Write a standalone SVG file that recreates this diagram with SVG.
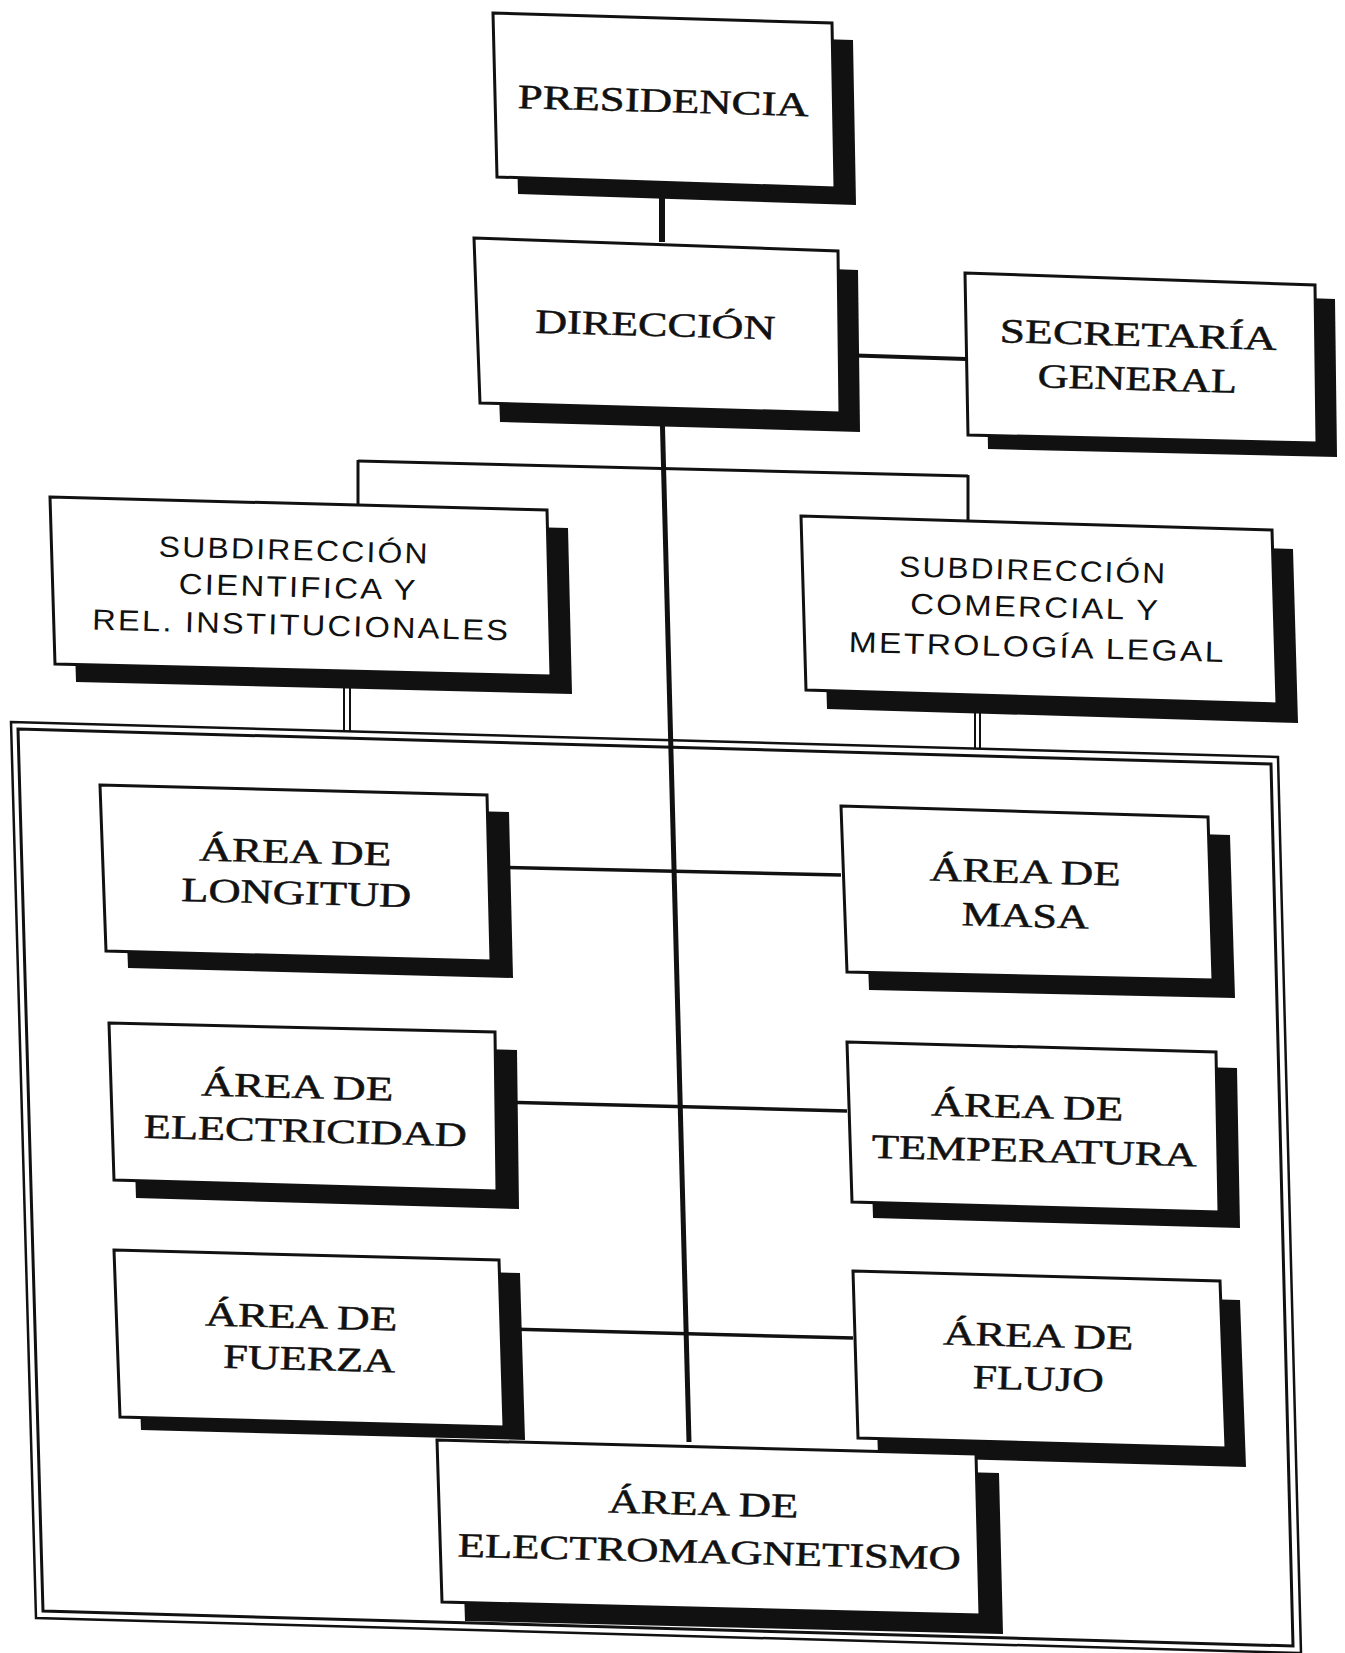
<svg xmlns="http://www.w3.org/2000/svg" width="1345" height="1653" viewBox="0 0 1345 1653">
<style>
.box{fill:#fff;stroke:#111;stroke-width:3;stroke-linejoin:miter}
.sh{fill:#111}
.t{font-family:"Liberation Serif","Times New Roman",serif;font-size:34px;fill:#111;stroke:#111;stroke-width:0.5;text-anchor:middle}
.s{font-family:"Liberation Sans",Arial,sans-serif;font-size:29px;letter-spacing:2px;fill:#111;text-anchor:middle}
.c{stroke:#111;fill:none;stroke-linecap:butt}
.fr{fill:none;stroke:#111}
</style>
<rect width="1345" height="1653" fill="#fff"/>
<g id="frame">
<polygon class="fr" stroke-width="2.5" points="11,722 1278,757 1301,1653 36,1618"/>
<polygon class="fr" stroke-width="3" points="18,729 1271,764 1293,1646 43,1611"/>
</g>
<g id="connectors">
<line class="c" stroke-width="6" x1="662" y1="188" x2="662" y2="242"/>
<line class="c" stroke-width="4" x1="840" y1="355" x2="966" y2="359"/>
<line class="c" stroke-width="5" x1="662" y1="408" x2="689" y2="1442"/>
<line class="c" stroke-width="3" x1="358" y1="461" x2="968" y2="476"/>
<line class="c" stroke-width="3" x1="358" y1="460" x2="358" y2="505"/>
<line class="c" stroke-width="3" x1="968" y1="475" x2="968" y2="521"/>
<line class="c" stroke-width="2" x1="344" y1="676" x2="344" y2="731"/>
<line class="c" stroke-width="2" x1="350" y1="676" x2="350" y2="731"/>
<line class="c" stroke-width="2" x1="975" y1="704" x2="975" y2="749"/>
<line class="c" stroke-width="2" x1="980" y1="704" x2="980" y2="749"/>
<line class="c" stroke-width="3.5" x1="491" y1="867" x2="841" y2="875"/>
<line class="c" stroke-width="3.5" x1="497" y1="1102" x2="847" y2="1111"/>
<line class="c" stroke-width="3.5" x1="504" y1="1329" x2="853" y2="1338"/>
</g>
<g id="presidencia">
<polygon class="sh" points="514,30 853,40 856,205 518,194"/>
<polygon class="box" points="493,13 832,23 835,188 497,177"/>
<text class="t" x="663" y="112" textLength="291" lengthAdjust="spacingAndGlyphs" transform="rotate(1.6 663 112)">PRESIDENCIA</text>
</g>
<g id="direccion">
<polygon class="sh" points="494,257 858,270 860,432 500,422"/>
<polygon class="box" points="474,238 838,251 840,413 480,403"/>
<text class="t" x="655" y="336" textLength="240" lengthAdjust="spacingAndGlyphs" transform="rotate(1.6 655 336)">DIRECCIÓN</text>
</g>
<g id="secretaria">
<polygon class="sh" points="985,287 1335,299 1337,457 988,449"/>
<polygon class="box" points="965,273 1315,285 1317,443 968,435"/>
<text class="t" x="1138" y="346" textLength="277" lengthAdjust="spacingAndGlyphs" transform="rotate(1.6 1138 346)">SECRETARÍA</text>
<text class="t" x="1137" y="390" textLength="199" lengthAdjust="spacingAndGlyphs" transform="rotate(1.6 1137 390)">GENERAL</text>
</g>
<g id="subdireccion-cientifica">
<polygon class="sh" points="71,515 568,528 572,694 76,682"/>
<polygon class="box" points="50,497 547,510 551,676 55,664"/>
<text class="s" x="294" y="560" textLength="271" lengthAdjust="spacingAndGlyphs" transform="rotate(1.5 294 560)">SUBDIRECCIÓN</text>
<text class="s" x="298" y="597" textLength="239" lengthAdjust="spacingAndGlyphs" transform="rotate(1.5 298 597)">CIENTIFICA Y</text>
<text class="s" x="301" y="635" textLength="418" lengthAdjust="spacingAndGlyphs" transform="rotate(1.5 301 635)">REL. INSTITUCIONALES</text>
</g>
<g id="subdireccion-comercial">
<polygon class="sh" points="822,535 1293,549 1298,723 827,709"/>
<polygon class="box" points="801,516 1272,530 1277,704 806,690"/>
<text class="s" x="1033" y="580" textLength="268" lengthAdjust="spacingAndGlyphs" transform="rotate(1.5 1033 580)">SUBDIRECCIÓN</text>
<text class="s" x="1035" y="617" textLength="250" lengthAdjust="spacingAndGlyphs" transform="rotate(1.5 1035 617)">COMERCIAL Y</text>
<text class="s" x="1037" y="657" textLength="377" lengthAdjust="spacingAndGlyphs" transform="rotate(1.5 1037 657)">METROLOGÍA LEGAL</text>
</g>
<g id="area-longitud">
<polygon class="sh" points="122,802 509,812 513,978 128,968"/>
<polygon class="box" points="100,785 487,795 491,961 106,951"/>
<text class="t" x="295" y="863" textLength="192" lengthAdjust="spacingAndGlyphs" transform="rotate(1.5 295 863)">ÁREA DE</text>
<text class="t" x="296" y="904" textLength="230" lengthAdjust="spacingAndGlyphs" transform="rotate(1.5 296 904)">LONGITUD</text>
</g>
<g id="area-masa">
<polygon class="sh" points="863,824 1230,835 1235,998 869,990"/>
<polygon class="box" points="841,806 1208,817 1213,980 847,972"/>
<text class="t" x="1025" y="883" textLength="191" lengthAdjust="spacingAndGlyphs" transform="rotate(1.5 1025 883)">ÁREA DE</text>
<text class="t" x="1025" y="927" textLength="127" lengthAdjust="spacingAndGlyphs" transform="rotate(1.5 1025 927)">MASA</text>
</g>
<g id="area-electricidad">
<polygon class="sh" points="131,1041 517,1050 519,1209 136,1198"/>
<polygon class="box" points="109,1023 495,1032 497,1191 114,1180"/>
<text class="t" x="297" y="1098" textLength="192" lengthAdjust="spacingAndGlyphs" transform="rotate(1.5 297 1098)">ÁREA DE</text>
<text class="t" x="305" y="1142" textLength="323" lengthAdjust="spacingAndGlyphs" transform="rotate(1.5 305 1142)">ELECTRICIDAD</text>
</g>
<g id="area-temperatura">
<polygon class="sh" points="868,1058 1237,1068 1240,1228 873,1218"/>
<polygon class="box" points="847,1042 1216,1052 1219,1212 852,1202"/>
<text class="t" x="1027" y="1118" textLength="192" lengthAdjust="spacingAndGlyphs" transform="rotate(1.5 1027 1118)">ÁREA DE</text>
<text class="t" x="1034" y="1162" textLength="325" lengthAdjust="spacingAndGlyphs" transform="rotate(1.5 1034 1162)">TEMPERATURA</text>
</g>
<g id="area-fuerza">
<polygon class="sh" points="135,1263 520,1273 525,1440 141,1430"/>
<polygon class="box" points="114,1250 499,1260 504,1427 120,1417"/>
<text class="t" x="301" y="1328" textLength="192" lengthAdjust="spacingAndGlyphs" transform="rotate(1.5 301 1328)">ÁREA DE</text>
<text class="t" x="309" y="1370" textLength="172" lengthAdjust="spacingAndGlyphs" transform="rotate(1.5 309 1370)">FUERZA</text>
</g>
<g id="area-flujo">
<polygon class="sh" points="873,1290 1240,1300 1246,1467 878,1457"/>
<polygon class="box" points="853,1271 1220,1281 1226,1448 858,1438"/>
<text class="t" x="1038" y="1347" textLength="190" lengthAdjust="spacingAndGlyphs" transform="rotate(1.5 1038 1347)">ÁREA DE</text>
<text class="t" x="1038" y="1390" textLength="131" lengthAdjust="spacingAndGlyphs" transform="rotate(1.5 1038 1390)">FLUJO</text>
</g>
<g id="area-electromagnetismo">
<polygon class="sh" points="460,1459 999,1473 1003,1634 465,1621"/>
<polygon class="box" points="437,1440 976,1454 980,1615 442,1602"/>
<text class="t" x="703" y="1515" textLength="190" lengthAdjust="spacingAndGlyphs" transform="rotate(1.5 703 1515)">ÁREA DE</text>
<text class="t" x="709" y="1563" textLength="503" lengthAdjust="spacingAndGlyphs" transform="rotate(1.5 709 1563)">ELECTROMAGNETISMO</text>
</g>
</svg>
